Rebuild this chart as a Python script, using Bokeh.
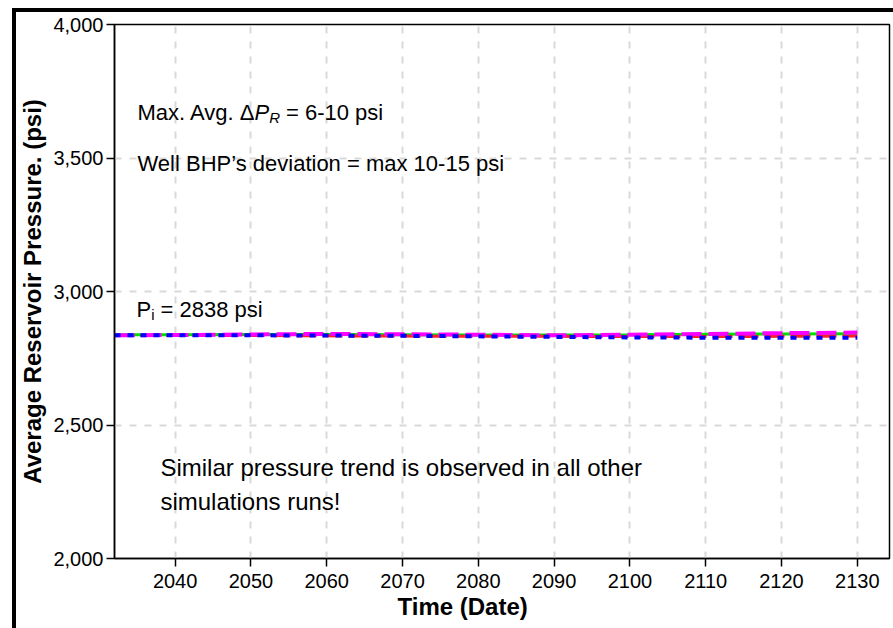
from bokeh.plotting import figure
from bokeh.models import Label, NumeralTickFormatter, FixedTicker, Title
from bokeh.layouts import column
from bokeh.embed import file_html
from bokeh.resources import INLINE

# ---- data ----
years = [2032, 2040, 2050, 2060, 2070, 2080, 2090, 2100, 2110, 2120, 2130]
green = [2838, 2838, 2839, 2839, 2838, 2837, 2837, 2838, 2840, 2841, 2842]
magenta = [2836, 2837, 2839, 2841, 2840, 2838, 2836, 2838, 2841, 2844, 2846]
red = [2835, 2835, 2835, 2834, 2833, 2832, 2832, 2831, 2831, 2832, 2833]
blue = [2836, 2836, 2836, 2835, 2834, 2832, 2830, 2828, 2827, 2827, 2827]
x_ticks = [2040, 2050, 2060, 2070, 2080, 2090, 2100, 2110, 2120, 2130]
y_ticks = [2000, 2500, 3000, 3500, 4000]

FONT = "Liberation Sans"

p = figure(width=877, height=616, x_range=(2032, 2134.25), y_range=(2000, 4000),
           output_backend="svg", toolbar_location=None,
           min_border_left=96, min_border_top=12, min_border_right=4, min_border_bottom=70)

p.background_fill_color = "white"
p.border_fill_color = "white"
p.outline_line_color = "black"
p.outline_line_width = 1.5

for ax in (p.xaxis[0], p.yaxis[0]):
    ax.axis_line_color = "black"
    ax.axis_line_width = 1.5
    ax.major_tick_line_color = "black"
    ax.major_tick_line_width = 1.5
    ax.major_tick_in = 0
    ax.major_tick_out = 8
    ax.minor_tick_line_color = None
    ax.major_label_text_font = FONT
    ax.major_label_text_font_size = "20px"
    ax.major_label_text_color = "black"
    ax.axis_label_text_font = FONT
    ax.axis_label_text_font_style = "bold"
    ax.axis_label_text_font_size = "24px"
    ax.axis_label_text_color = "black"

p.xaxis.ticker = FixedTicker(ticks=x_ticks)
p.yaxis.ticker = FixedTicker(ticks=y_ticks)
p.yaxis.formatter = NumeralTickFormatter(format="0,0")
p.yaxis.axis_label = "Average Reservoir Pressure. (psi)"
p.xaxis.major_label_standoff = 7
p.yaxis.major_label_standoff = 3
p.yaxis.axis_label_standoff = 4

# x-axis title, shifted left of the frame centre as in the original
xt = Title(text="Time (Date)", align="left", offset=283, text_font=FONT,
           text_font_size="24px", text_font_style="bold", text_color="black",
           standoff=0)
p.add_layout(xt, "below")

for g in (p.xgrid[0], p.ygrid[0]):
    g.grid_line_color = "#d9d9d9"
    g.grid_line_width = 2
    g.grid_line_dash = "7 8"
p.xgrid.ticker = FixedTicker(ticks=x_ticks)
p.ygrid.ticker = FixedTicker(ticks=y_ticks)

p.line(years, green, line_color="#00dd00", line_width=3)
p.line(years, red, line_color="#ff2020", line_width=3, line_dash="20 6")
p.line(years, magenta, line_color="#ff00ff", line_width=4, line_dash="20 7")
p.line(years, blue, line_color="#0000ff", line_width=4, line_dash="6 7")


def lab(text, x, y, xoff=0, yoff=0, size="22px", style="normal", align="left"):
    p.add_layout(Label(x=x, y=y, x_offset=xoff, y_offset=yoff, text=text,
                       text_font=FONT, text_font_size=size, text_font_style=style,
                       text_color="black", text_baseline="alphabetic", text_align=align))


# Max. Avg. ΔP_R line
ax0, ay0 = 2035.03, 3671
lab("Max. Avg. Δ", ax0, ay0)
lab("P", ax0, ay0, xoff=117, style="italic")
lab("R", ax0, ay0, xoff=131.7, yoff=-5, size="15px", style="italic")
lab("= 6-10 psi", ax0, ay0, xoff=148.5)

lab("Well BHP’s deviation = max 10-15 psi", 2035.03, 3479)

# P_i line
lab("P", 2034.9, 2932)
lab("i", 2034.9, 2932, xoff=14.7, yoff=-5, size="15px")
lab("= 2838 psi", 2034.9, 2932, xoff=24)

lab("Similar pressure trend is observed in all other", 2038.06, 2342, size="24px")
lab("simulations runs!", 2038.06, 2215, size="24px")

layout = column(p, styles={"margin-left": "12px", "margin-top": "8px",
                           "border-left": "4px solid black", "border-top": "4px solid black"})

open("out.html", "w").write(file_html(layout, INLINE))
